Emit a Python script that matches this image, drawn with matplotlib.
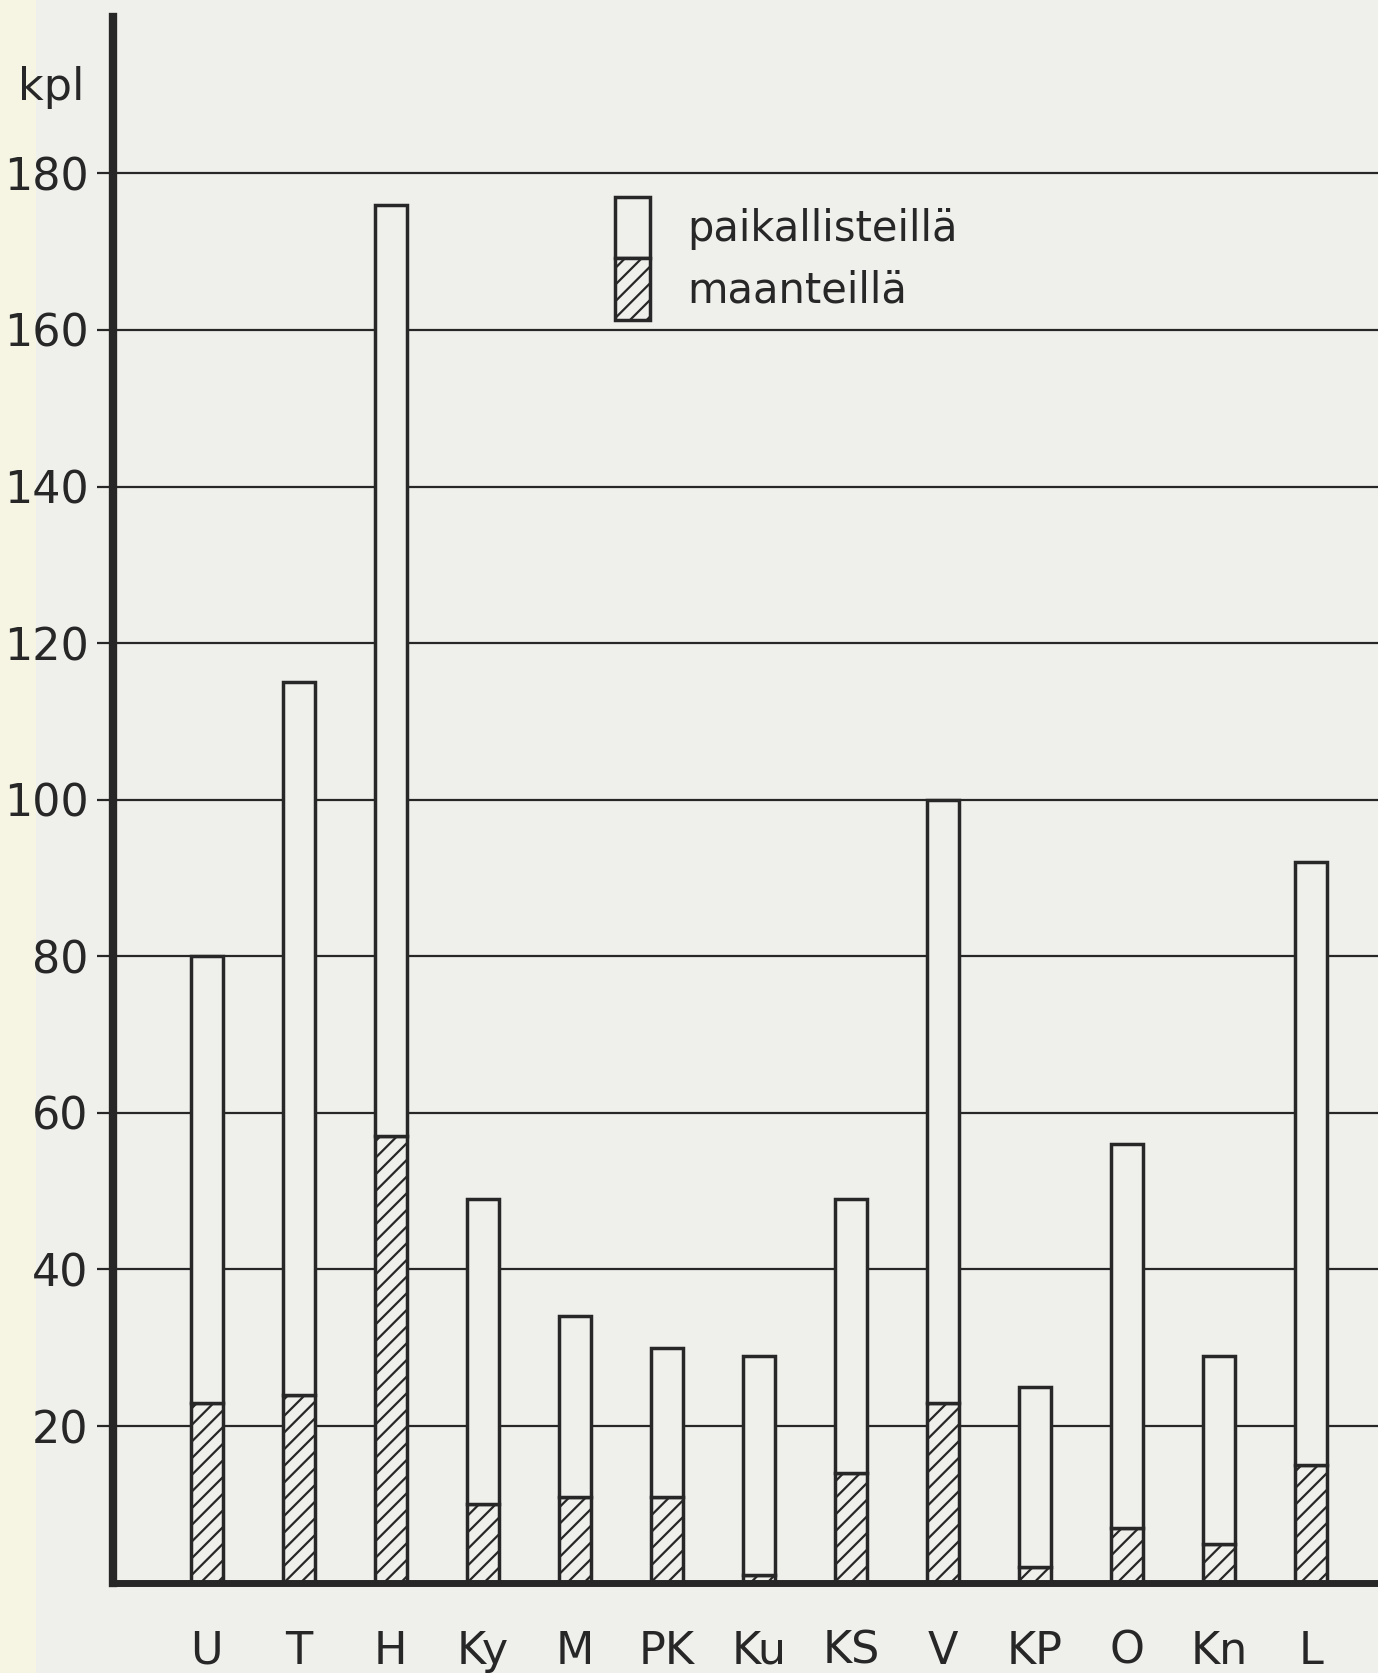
import matplotlib
matplotlib.use('Agg')
import matplotlib.pyplot as plt
from matplotlib.patches import Rectangle
import numpy as np

plt.rcParams.update({
    'font.family': ['DejaVu Sans'],
    'font.size': 32,
    'hatch.linewidth': 1.6,
    'axes.unicode_minus': False,
})

INK = '#272727'
PAPER = '#efefec'
EDGE_BAND = '#f6f5e4'

# ── data (kpl) ──
LABELS = ['U', 'T', 'H', 'Ky', 'M', 'PK', 'Ku', 'KS', 'V', 'KP', 'O', 'Kn', 'L']
MAANTEILLA = [23, 24, 57, 10, 11, 11, 1, 14, 23, 2, 7, 5, 15]
PAIKALLISTEILLA = [57, 91, 119, 39, 23, 19, 28, 35, 77, 23, 49, 24, 77]
YTICKS = [20, 40, 60, 80, 100, 120, 140, 160, 180]

fig = plt.figure(figsize=(13.78, 16.73), dpi=100, facecolor=PAPER)
fig.patches.append(Rectangle((0, 0), 0.026, 1, transform=fig.transFigure,
                             facecolor=EDGE_BAND, edgecolor='none', zorder=-1))
ax = fig.add_axes([0.082, 0.054, 0.918, 0.936])
ax.set_facecolor(PAPER)

x = np.arange(len(LABELS))
w = 0.35
b1 = ax.bar(x, MAANTEILLA, w, facecolor=PAPER, edgecolor=INK, linewidth=2.5,
            hatch='//', label='maanteillä', zorder=2)
b2 = ax.bar(x, PAIKALLISTEILLA, w, bottom=MAANTEILLA, facecolor=PAPER, edgecolor=INK,
            linewidth=2.5, label='paikallisteillä', zorder=2)

ax.set_xlim(-1.02, 12.73)
ax.set_ylim(0, 200)
ax.set_yticks(YTICKS)
ax.set_yticklabels([str(v) for v in YTICKS], fontsize=32, color=INK)
ax.set_xticks(x)
ax.set_xticklabels(LABELS, fontsize=32, color=INK)
ax.tick_params(axis='y', direction='out', length=11.5, width=1.6, color=INK, pad=6)
ax.tick_params(axis='x', length=0, pad=34)

ax.set_axisbelow(True)
ax.grid(axis='y', color=INK, linewidth=1.6)
ax.grid(axis='x', visible=False)

for s in ['top', 'right']:
    ax.spines[s].set_visible(False)
ax.spines['left'].set_linewidth(6)
ax.spines['left'].set_color(INK)
ax.spines['bottom'].set_linewidth(5)
ax.spines['bottom'].set_color(INK)
ax.spines['bottom'].set_zorder(3)

fig.text(18 / 1378, 1 - 100 / 1673, 'kpl', fontsize=32, color=INK, va='baseline', ha='left')

leg = fig.legend([b2, b1], ['paikallisteillä', 'maanteillä'],
                 loc='upper left', bbox_to_anchor=(615 / 1378, 1 - 197 / 1673),
                 frameon=False, fontsize=30, handlelength=0.84, handleheight=1.89,
                 labelspacing=0, handletextpad=0.9, borderpad=0, borderaxespad=0)
for t in leg.get_texts():
    t.set_color(INK)

fig.savefig('out.png', dpi=100, facecolor=PAPER)
